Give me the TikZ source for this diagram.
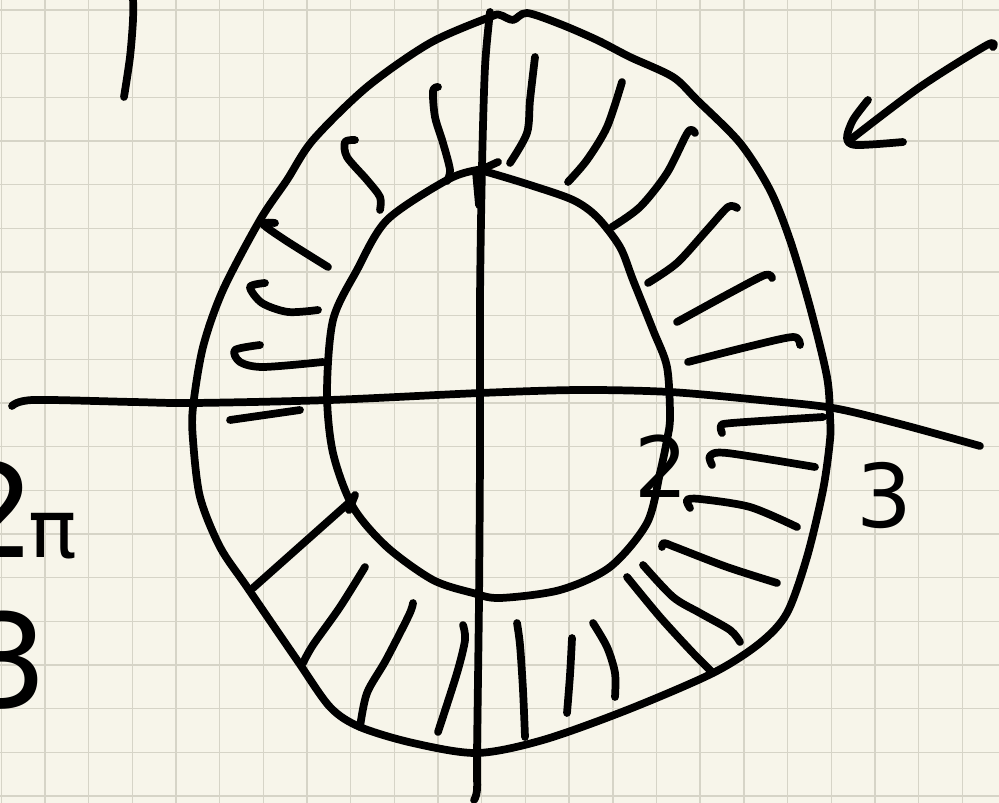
\documentclass[tikz,border=0pt]{standalone}
\usepackage{fontspec}
\usepackage{tikz}
\newfontfamily\handfont{DejaVu Sans}
\definecolor{cPaper}{RGB}{247,245,234}
\definecolor{cGrid}{RGB}{214,212,199}
\definecolor{cInk}{RGB}{0,0,0}
\tikzset{
	ink/.style     ={line width=4.4pt, cInk, line cap=round, line join=round},
	gridline/.style={line width=0.8pt, cGrid},
	% handwritten labels
	numeral/.style ={font=\handfont, text=cInk, inner sep=0pt},
}

\begin{document}
\begin{tikzpicture}[x=0.02cm, y=-0.02cm]
	\useasboundingbox (0,0) rectangle (999,803);
	\fill[cPaper] (0,0) rectangle (999,803);
	\foreach \k in {0,...,22}
		\draw[gridline] ({1.3+43.68*\k},0) -- ({1.3+43.68*\k},803);
	\foreach \k in {0,...,18}
		\draw[gridline] (0,{10+43.67*\k}) -- (999,{10+43.67*\k});

	% stray stroke top left
	\draw[ink] plot[smooth] coordinates {(133,-5) (133,20) (130,57) (124,97)};

	% axes
	\draw[ink] plot[smooth] coordinates {(12,406) (33,400) (133,402) (193,403) (330,400) (480,393)
		(580,390) (670,392) (760,400) (833,408) (900,424) (980,446)};
	\draw[ink] plot[smooth] coordinates {(490,12) (485,67) (482,167) (480,300) (480,450) (479,600)
		(477,753) (477,790) (474,800)};
	\draw[ink] (498,162) -- (476,172) -- (479,205);

	% outer and inner boundary
	\draw[ink] plot[smooth cycle] coordinates {(527,13) (560,24) (597,40) (630,57) (673,77) (697,100)
		(740,143) (770,190) (790,240) (810,307) (827,377) (830,417) (830,440) (823,490) (807,557)
		(787,613) (760,643) (713,673) (627,710) (543,740) (477,753) (413,743) (360,727) (330,707)
		(297,660) (247,587) (220,547) (200,497) (193,440) (193,407) (203,347) (223,290) (260,220)
		(287,180) (313,140) (367,87) (430,43) (490,17) (500,15) (513,20)};
	\draw[ink] plot[smooth cycle] coordinates {(487,172) (530,185) (573,200) (597,217) (620,247)
		(633,280) (653,330) (667,367) (670,417) (667,440) (660,473) (647,523) (610,567) (560,590)
		(500,598) (473,593) (433,580) (387,547) (353,507) (333,453) (327,393) (333,320) (357,270)
		(387,220) (447,180) (477,170)};

	% hatching, upper half
	\draw[ink] plot[smooth] coordinates {(535,57) (530,100) (527,133) (510,163)};
	\draw[ink] plot[smooth] coordinates {(438,87) (433,91) (435,117) (443,143) (450,170) (447,181)};
	\draw[ink] plot[smooth] coordinates {(355,140) (345,142) (347,157) (367,180) (380,197) (380,210)};
	\draw[ink] plot[smooth] coordinates {(275,223) (263,224) (285,240) (328,267)};
	\draw[ink] plot[smooth] coordinates {(265,283) (250,287) (262,303) (288,312) (318,310)};
	\draw[ink] plot[smooth] coordinates {(260,345) (235,350) (240,362) (263,367) (323,362)};
	\draw[ink] (230,420) -- (300,410);
	\draw[ink] plot[smooth] coordinates {(622,82) (607,127) (587,160) (568,182)};
	\draw[ink] plot[smooth] coordinates {(695,133) (688,132) (667,173) (640,207) (612,227)};
	\draw[ink] plot[smooth] coordinates {(737,208) (728,207) (707,230) (677,263) (648,283)};
	\draw[ink] plot[smooth] coordinates {(772,278) (765,275) (730,293) (677,322)};
	\draw[ink] plot[smooth] coordinates {(800,345) (793,337) (747,347) (688,362)};

	% hatching, lower half
	\draw[ink] plot[smooth] coordinates {(722,433) (721,426) (732,423) (823,417)};
	\draw[ink] plot[smooth] coordinates {(712,465) (710,456) (727,453) (815,467)};
	\draw[ink] plot[smooth] coordinates {(690,508) (687,500) (700,499) (750,507) (797,527)};
	\draw[ink] plot[smooth] coordinates {(662,547) (664,543) (675,547) (727,567) (777,583)};
	\draw[ink] plot[smooth] coordinates {(643,565) (673,597) (700,613) (730,630) (740,642)};
	\draw[ink] plot[smooth] coordinates {(627,577) (660,617) (693,653) (713,673)};
	\draw[ink] plot[smooth] coordinates {(593,623) (607,647) (615,673) (615,697)};
	\draw[ink] plot[smooth] coordinates {(572,638) (570,675) (567,713)};
	\draw[ink] plot[smooth] coordinates {(517,623) (520,645) (523,690) (525,737)};
	\draw[ink] plot[smooth] coordinates {(463,625) (465,640) (457,673) (438,732)};
	\draw[ink] plot[smooth] coordinates {(413,603) (409,615) (386,660) (367,693) (360,727)};
	\draw[ink] plot[smooth] coordinates {(365,567) (340,607) (313,645) (303,663)};
	\draw[ink] (355,495) -- (349,510);
	\draw[ink] (352,500) -- (253,588);

	% arrow top right
	\draw[ink] plot[smooth] coordinates {(993,47) (987,45) (920,87) (850,140)};
	\draw[ink] plot[smooth] coordinates {(868,100) (853,120) (847,138) (856,145) (903,142)};

	% labels
	\node[numeral] (two) at (661,466) {\fontsize{48}{48}\selectfont 2};
	\node[numeral] (three) at (884,496) {\fontsize{50}{50}\selectfont 3};
	\node[numeral, anchor=base west] (twopi) at (-47,557)
		{\fontsize{74}{74}\selectfont 2\kern-0.06em{\fontsize{46}{46}\selectfont π}};
	\node[numeral, anchor=base west] (threeleft) at (-35,707) {\fontsize{74}{74}\selectfont 3};
\end{tikzpicture}
\end{document}
